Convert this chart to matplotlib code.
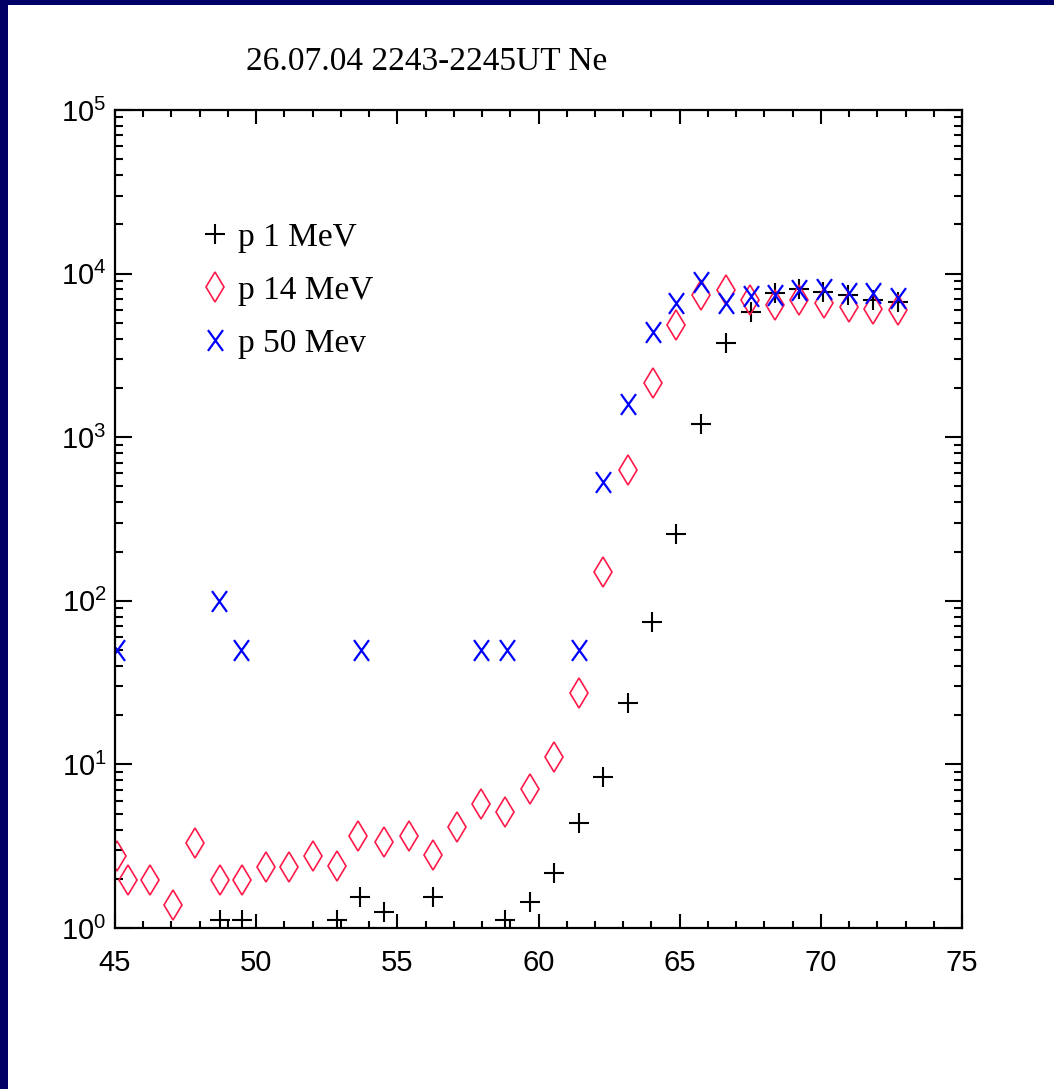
import matplotlib
matplotlib.use("Agg")
import matplotlib.pyplot as plt
from matplotlib.path import Path
from matplotlib.patches import Rectangle
from matplotlib.lines import Line2D
from matplotlib.ticker import MultipleLocator, LogLocator, FixedLocator, FixedFormatter, NullFormatter

# ---- data -------------------------------------------------------------
x_1mev = [48.72, 49.50, 52.86, 53.68, 54.53, 56.26, 58.80, 59.70, 60.55, 61.44,
          62.29, 63.17, 64.02, 64.87, 65.76, 66.64, 67.53, 68.38, 69.23, 70.08,
          70.96, 71.85, 72.74]
y_1mev = [1.12, 1.12, 1.12, 1.55, 1.25, 1.55, 1.12, 1.44, 2.17, 4.38,
          8.4, 23.7, 74, 256, 1200, 3790, 5800, 7600, 8100, 7700,
          7400, 6900, 6700]

x_14mev = [45.06, 45.45, 46.24, 47.07, 47.83, 48.72, 49.49, 50.34, 51.15, 52.03,
           52.88, 53.62, 54.53, 55.41, 56.26, 57.11, 57.96, 58.80, 59.70, 60.55,
           61.44, 62.29, 63.16, 64.05, 64.87, 65.76, 66.63, 67.50, 68.38, 69.23,
           70.10, 71.00, 71.85, 72.74]
y_14mev = [2.75, 1.96, 1.96, 1.38, 3.32, 1.96, 1.96, 2.37, 2.37, 2.75,
           2.39, 3.65, 3.36, 3.65, 2.79, 4.14, 5.72, 5.11, 7.07, 11.1,
           27.3, 150, 631, 2130, 4860, 7400, 7900, 6900, 6400, 6900,
           6600, 6250, 6100, 6000]

x_50mev = [45.07, 48.68, 49.46, 53.71, 57.97, 58.88, 61.44, 62.29, 63.17, 64.06,
           64.87, 65.76, 66.63, 67.53, 68.38, 69.23, 70.10, 71.00, 71.85, 72.74]
y_50mev = [50, 100, 50, 50, 50, 50, 50, 532, 1590, 4400,
           6600, 8900, 6600, 7300, 7400, 7900, 8100, 7600, 7600, 7100]

series_labels = ["p 1 MeV", "p 14 MeV", "p 50 Mev"]
title_text = "26.07.04 2243-2245UT Ne"
x_ticks = [45, 50, 55, 60, 65, 70, 75]
y_ticks = [1, 10, 100, 1000, 10000, 100000]
y_tick_labels = [r"$10^{0}$", r"$10^{1}$", r"$10^{2}$", r"$10^{3}$", r"$10^{4}$", r"$10^{5}$"]

# ---- style ------------------------------------------------------------
tick_font = ["Liberation Sans", "DejaVu Sans"]
serif_font = ["Liberation Serif", "DejaVu Serif"]
plt.rcParams["font.family"] = tick_font
plt.rcParams["mathtext.fontset"] = "custom"
plt.rcParams["mathtext.rm"] = "Liberation Sans"
plt.rcParams["mathtext.it"] = "Liberation Sans"
plt.rcParams["mathtext.bf"] = "Liberation Sans"
plt.rcParams["mathtext.default"] = "regular"

navy = "#000066"
red = "#FF1A4A"
blue = "#0000FF"

# tall, narrow "X" symbol
x_marker = Path([(-0.36, -0.5), (0.36, 0.5), (-0.36, 0.5), (0.36, -0.5)],
                [Path.MOVETO, Path.LINETO, Path.MOVETO, Path.LINETO])

W, H = 1054, 1089
fig = plt.figure(figsize=(W / 100, H / 100), dpi=100)
fig.patch.set_facecolor("white")
fig.patches.append(Rectangle((0, 0), 8 / W, 1, transform=fig.transFigure,
                             facecolor=navy, edgecolor="none", zorder=0))
fig.patches.append(Rectangle((0, 1 - 5 / H), 1, 5 / H, transform=fig.transFigure,
                             facecolor=navy, edgecolor="none", zorder=0))

ax = fig.add_axes([115 / W, 1 - 928 / H, 847 / W, 818 / H])

ax.plot(x_1mev, y_1mev, linestyle="none", marker="+", ms=14, mew=1.5, color="black")
ax.plot(x_14mev, y_14mev, linestyle="none", marker="d", ms=15, mew=1.2,
        mfc="none", mec=red)
ax.plot(x_50mev, y_50mev, linestyle="none", marker=x_marker, ms=15, mew=1.6,
        mfc="none", mec=blue)

ax.set_xlim(45, 75)
ax.set_yscale("log")
ax.set_ylim(1, 1e5)

ax.xaxis.set_major_locator(FixedLocator(x_ticks))
ax.xaxis.set_minor_locator(MultipleLocator(1))
ax.yaxis.set_major_locator(FixedLocator(y_ticks))
ax.yaxis.set_major_formatter(FixedFormatter(y_tick_labels))
ax.yaxis.set_minor_locator(LogLocator(base=10, subs=range(2, 10), numticks=20))
ax.yaxis.set_minor_formatter(NullFormatter())

for s in ax.spines.values():
    s.set_linewidth(1.6)

ax.tick_params(axis="both", which="both", direction="in", top=True, right=True,
               width=1.5, color="black")
ax.tick_params(axis="x", which="major", length=10, pad=15, labelsize=21)
ax.tick_params(axis="x", which="minor", length=5)
ax.tick_params(axis="y", which="major", length=12, pad=6, labelsize=21)
ax.tick_params(axis="y", which="minor", length=6)

fig.text(427 / W, 1 - 70 / H, title_text, ha="center", va="baseline",
         fontsize=24, family=serif_font)

handles = [
    Line2D([], [], linestyle="none", marker="+", ms=14, mew=1.5, color="black"),
    Line2D([], [], linestyle="none", marker="d", ms=15, mew=1.2, mfc="none", mec=red),
    Line2D([], [], linestyle="none", marker=x_marker, ms=15, mew=1.6, mfc="none", mec=blue),
]
ax.legend(handles, series_labels, loc="upper left",
          bbox_to_anchor=(205 / W, 1 - 222 / H), bbox_transform=fig.transFigure,
          frameon=False, prop={"family": serif_font, "size": 24},
          handlelength=0.6, handletextpad=0.38, labelspacing=0.68,
          borderpad=0, borderaxespad=0)

fig.savefig("out.png", dpi=100, facecolor="white")
